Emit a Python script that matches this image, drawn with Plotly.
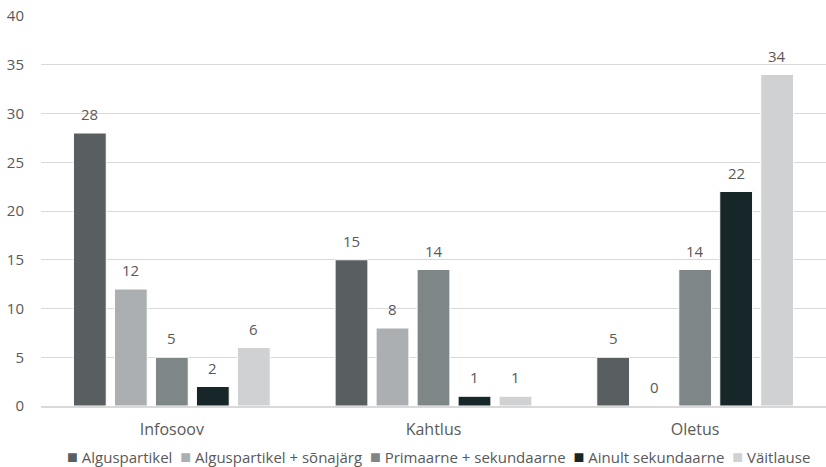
import plotly.graph_objects as go

categories = ["Infosoov", "Kahtlus", "Oletus"]
series_names = ["Alguspartikel", "Alguspartikel + sõnajärg", "Primaarne + sekundaarne", "Ainult sekundaarne", "Väitlause"]
alguspartikel = [28, 15, 5]
alguspartikel_sonajarg = [12, 8, 0]
primaarne_sekundaarne = [5, 14, 14]
ainult_sekundaarne = [2, 1, 22]
vaitlause = [6, 1, 34]
series_values = [alguspartikel, alguspartikel_sonajarg, primaarne_sekundaarne, ainult_sekundaarne, vaitlause]
colors = ["#595f61", "#abafb1", "#7f8688", "#172629", "#d0d1d2"]
y_ticks = [0, 5, 10, 15, 20, 25, 30, 35, 40]

FONT = "Open Sans"
TXT = "#595959"
W, H = 826, 467
ML, MR, MT, MB = 41, 0, 16, 61
BARGAP = 0.2166
n = len(series_names)
cat_px = (W - ML - MR) / len(categories)
pitch = cat_px * (1 - BARGAP) / n

fig = go.Figure()
for name, vals, col in zip(series_names, series_values, colors):
    fig.add_trace(go.Bar(
        x=categories, y=vals, name=name,
        marker=dict(color=col, line=dict(color="white", width=1)),
        showlegend=False,
    ))

# data labels above bars
for i, vals in enumerate(series_values):
    for c, v in zip(categories, vals):
        fig.add_annotation(
            x=c, y=v, xref="x", yref="y", text=str(v), showarrow=False,
            xshift=(i - (n - 1) / 2) * pitch, yshift=7, yanchor="bottom",
            font=dict(family=FONT, size=15, color=TXT),
        )

# legend line
parts = []
for name, col in zip(series_names, colors):
    parts.append(f"<span style='color:{col};font-size:18px'>■</span> {name}")
legend_text = "&nbsp; ".join(parts)
fig.add_annotation(
    x=0.507, y=-(50 / (H - MT - MB)), xref="paper", yref="paper",
    text=legend_text, showarrow=False, xanchor="center", yanchor="middle",
    font=dict(family=FONT, size=15, color=TXT),
)

fig.update_layout(
    width=W, height=H,
    paper_bgcolor="white", plot_bgcolor="white",
    margin=dict(l=ML, r=MR, t=MT, b=MB),
    barmode="group", bargap=BARGAP, bargroupgap=0.2,
    font=dict(family=FONT, size=14, color=TXT),
    showlegend=False,
    xaxis=dict(showgrid=False, showline=True, linecolor="#d9d9d9", linewidth=1.5,
               ticks="", tickfont=dict(family=FONT, size=16, color=TXT),
               ticklabelstandoff=8),
    yaxis=dict(range=[0, 40], tickvals=y_ticks, showgrid=True, gridcolor="#d9d9d9",
               gridwidth=1, zeroline=False, showline=False, ticks="",
               tickfont=dict(family=FONT, size=15, color=TXT), ticklabelstandoff=16),
)

fig.write_html("out.html", config={"displayModeBar": False},
               post_script="document.body.style.margin='0';")
